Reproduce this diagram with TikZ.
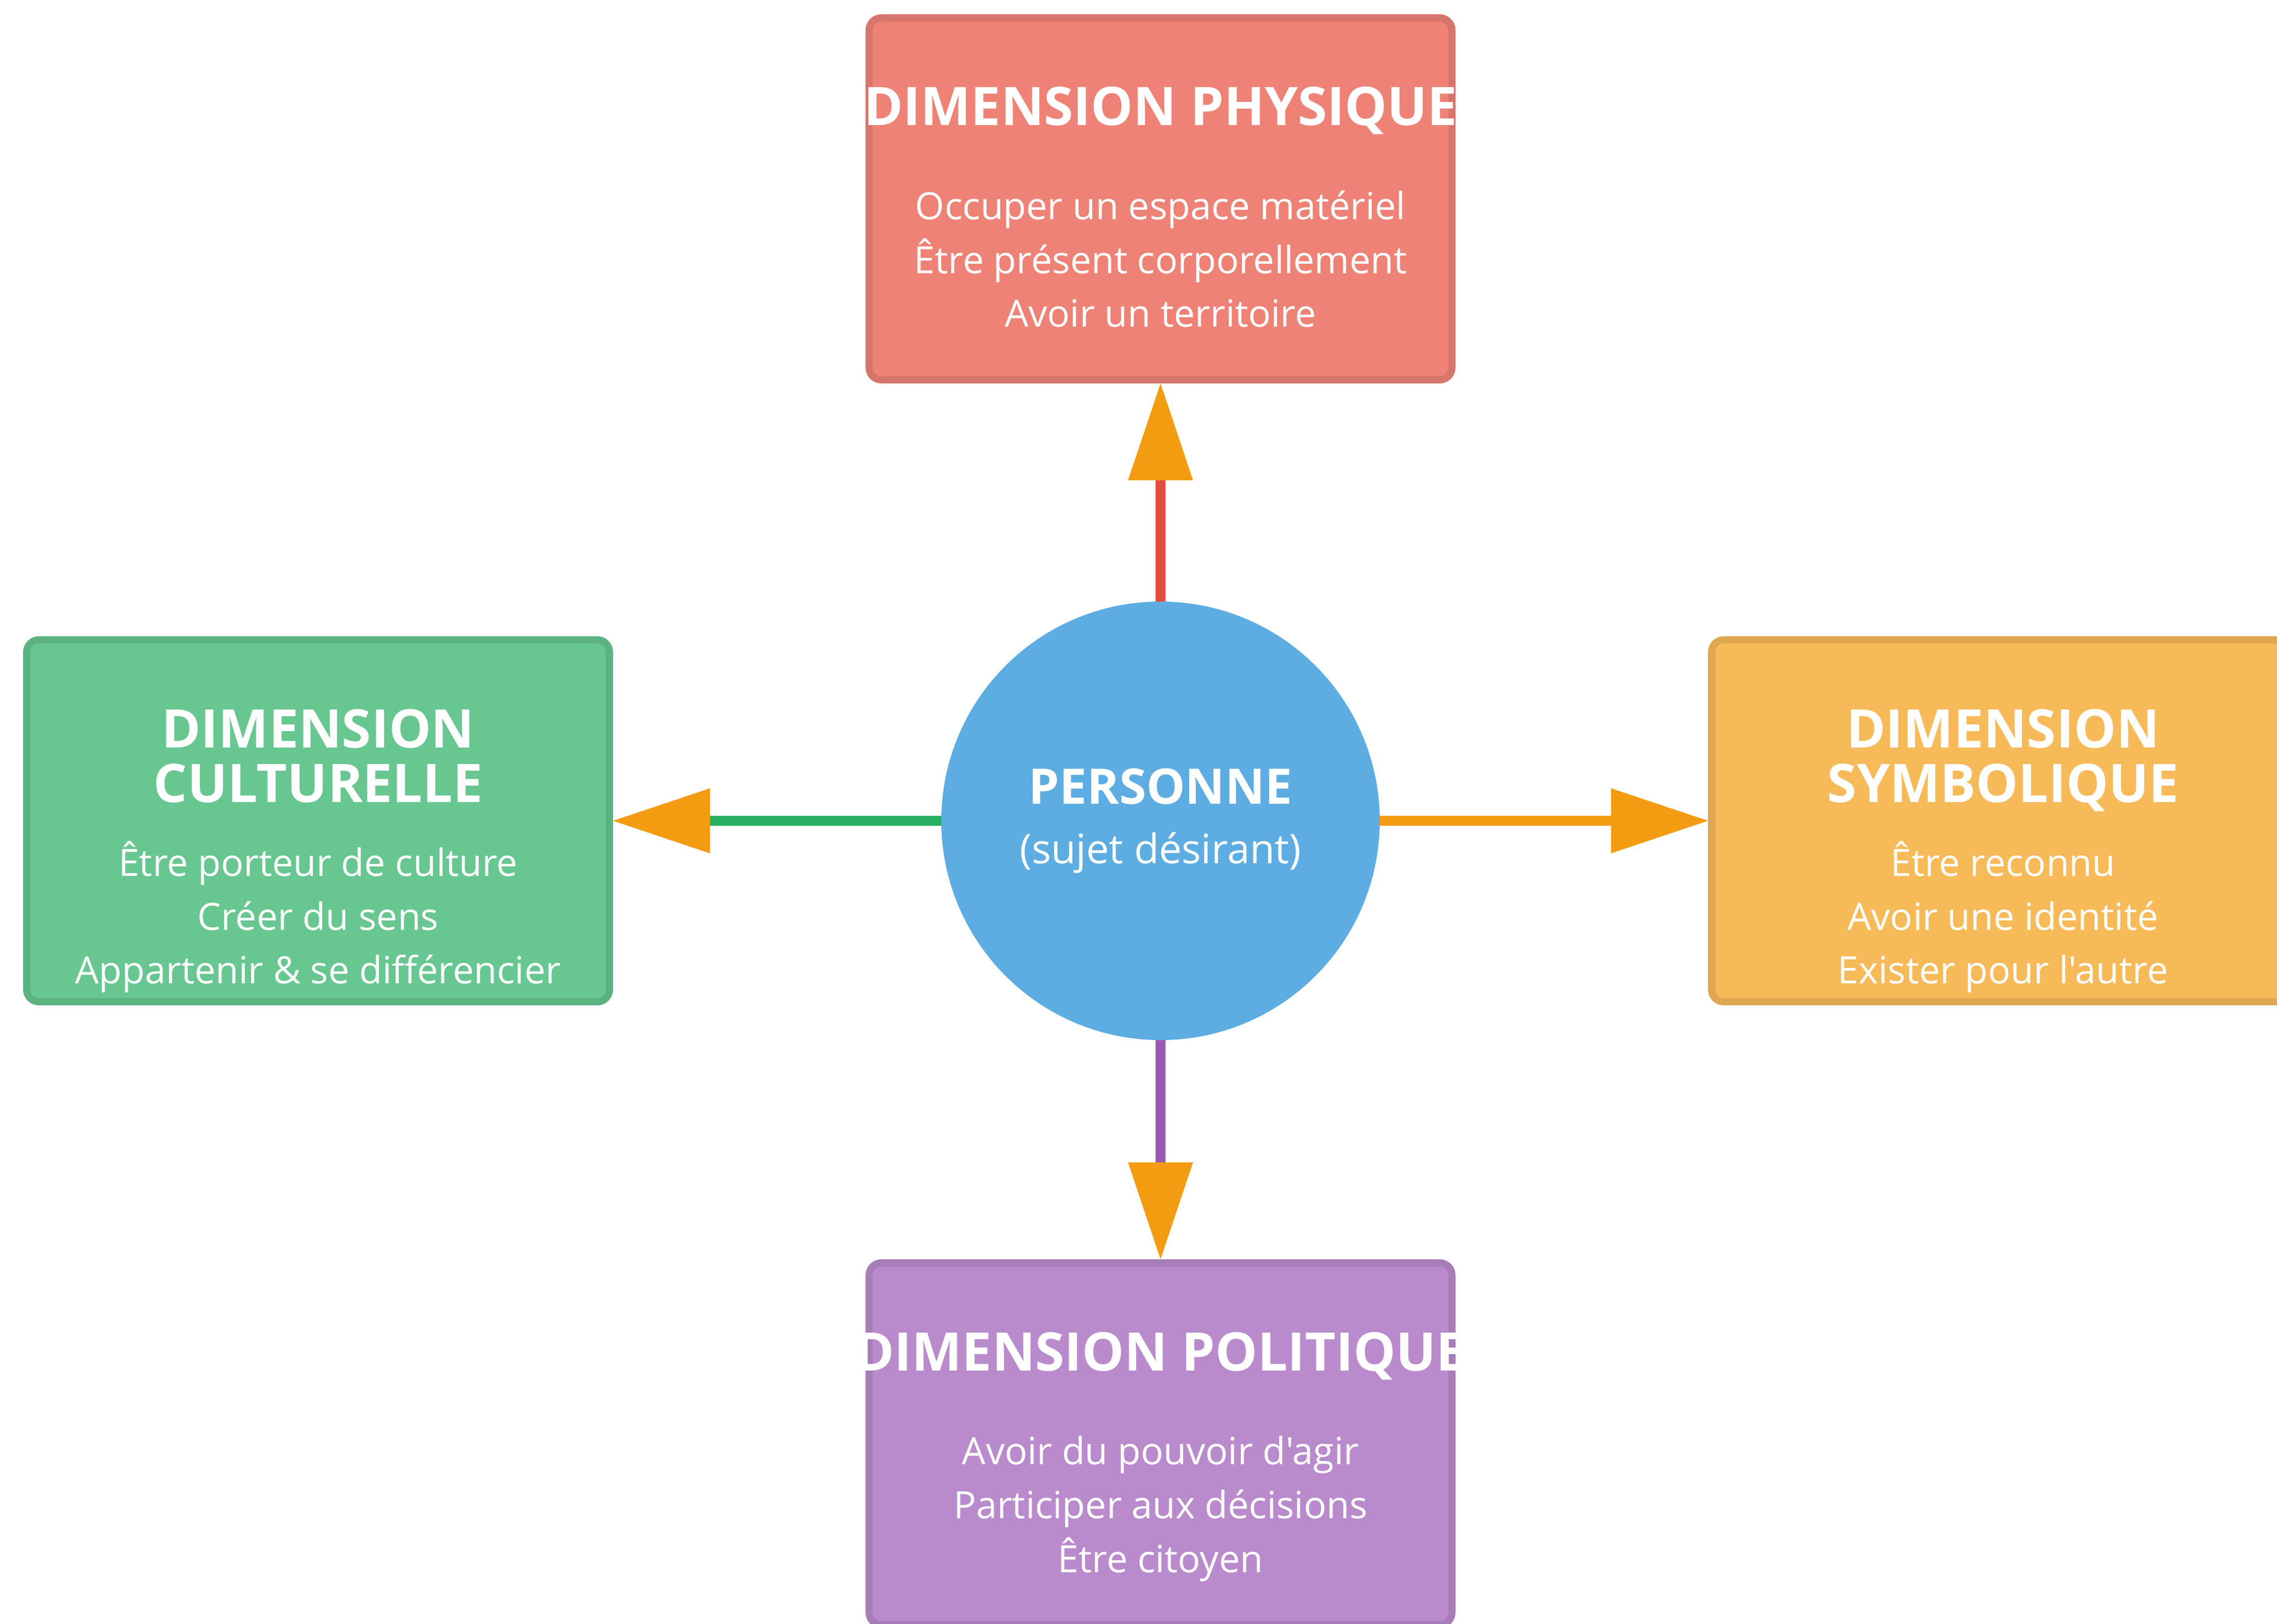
\documentclass[tikz,border=0pt]{standalone}
\usepackage{fontspec}
\usepackage{tikz}
\usetikzlibrary{positioning,arrows.meta}

\newfontfamily\police{Open Sans}

\definecolor{rougeDim}{HTML}{E74C3C}
\definecolor{vertDim}{HTML}{27AE60}
\definecolor{orangeDim}{HTML}{F39C12}
\definecolor{mauveDim}{HTML}{9B59B6}
\definecolor{bleuDim}{HTML}{5DADE2}
\colorlet{fondRouge}{rougeDim!70!white}
\colorlet{fondVert}{vertDim!70!white}
\colorlet{fondOrange}{orangeDim!70!white}
\colorlet{fondMauve}{mauveDim!70!white}
\colorlet{bordRouge}{fondRouge!90!black}
\colorlet{bordVert}{fondVert!90!black}
\colorlet{bordOrange}{fondOrange!90!black}
\colorlet{bordMauve}{fondMauve!90!black}

\begin{document}
\begin{tikzpicture}[
		boite/.style={draw, rounded corners=0.22cm, line width=0.13cm, minimum width=10.58cm, minimum height=6.57cm},
		titre/.style={text=white, align=center, inner sep=0pt, font=\police\bfseries\fontsize{27.5}{28.45}\selectfont},
		corps/.style={text=white, align=center, inner sep=0pt, font=\police\fontsize{19.4}{27.8}\selectfont},
		lien/.style={line width=0.18cm, -{Triangle[length=1.76cm, width=1.18cm, line width=0pt, color=orangeDim]}}
	]
	\useasboundingbox (-21.07,-14.58) rectangle (20.27,14.90);
	\clip (-21.07,-14.58) rectangle (20.27,14.90);

	\node[circle, fill=bleuDim, minimum size=7.96cm, inner sep=0pt, outer sep=0pt, text=white, align=center,
		font=\police\bfseries\fontsize{25.3}{30.7}\selectfont] (personne) at (0,0)
		{PERSONNE\\{\mdseries\fontsize{21}{25}\selectfont (sujet désirant)}};

	\node[boite, fill=fondRouge, draw=bordRouge, above=3.96cm of personne] (physique) {};
	\node[boite, fill=fondMauve, draw=bordMauve, below=3.98cm of personne] (politique) {};
	\node[boite, fill=fondVert, draw=bordVert, left=5.96cm of personne] (culturelle) {};
	\node[boite, fill=fondOrange, draw=bordOrange, right=5.96cm of personne] (symbolique) {};

	\node[titre, anchor=base] (titrePhysique) at ([yshift=-2.02cm]physique.north) {DIMENSION PHYSIQUE};
	\node[corps, anchor=base] (corpsPhysique) at ([yshift=-3.66cm]titrePhysique.base)
		{Occuper un espace matériel\\Être présent corporellement\\Avoir un territoire};

	\node[titre, anchor=base] (titrePolitique) at ([yshift=-2.02cm]politique.north) {DIMENSION POLITIQUE};
	\node[corps, anchor=base] (corpsPolitique) at ([yshift=-3.66cm]titrePolitique.base)
		{Avoir du pouvoir d'agir\\Participer aux décisions\\Être citoyen};

	\node[titre, anchor=base] (titreCulturelle) at ([yshift=-3.02cm]culturelle.north) {DIMENSION\\CULTURELLE};
	\node[corps, anchor=base] (corpsCulturelle) at ([yshift=-3.29cm]titreCulturelle.base)
		{Être porteur de culture\\Créer du sens\\Appartenir \& se différencier};

	\node[titre, anchor=base] (titreSymbolique) at ([yshift=-3.02cm]symbolique.north) {DIMENSION\\SYMBOLIQUE};
	\node[corps, anchor=base] (corpsSymbolique) at ([yshift=-3.29cm]titreSymbolique.base)
		{Être reconnu\\Avoir une identité\\Exister pour l'autre};

	\draw[lien, rougeDim] (personne) -- (physique);
	\draw[lien, mauveDim] (personne) -- (politique);
	\draw[lien, vertDim] (personne) -- (culturelle);
	\draw[lien, orangeDim] (personne) -- (symbolique);
\end{tikzpicture}
\end{document}
